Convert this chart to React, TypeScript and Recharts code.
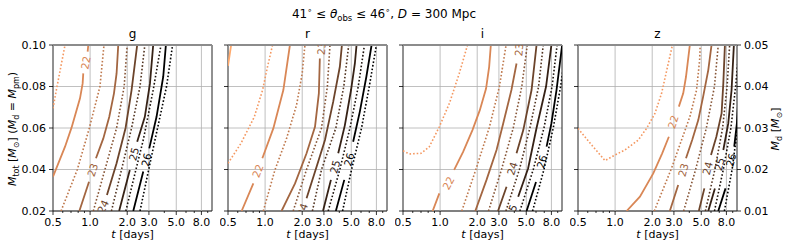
import React from "react";
import {
  CartesianGrid,
  ComposedChart,
  Line,
  ReferenceArea,
  ReferenceLine,
  Scatter,
  XAxis,
  YAxis,
} from "recharts";

type Pt = [number, number | null];
type Contour = { level: number; pts: Pt[] };
type Tag = { level: number; t: number; m: number; angle: number };

const BANDS = ["g", "r", "i", "z"];
const T_TICKS = [0.5, 1, 2, 3, 5, 8];
const T_MINOR = [0.6, 0.7, 0.8, 0.9, 4, 6, 7, 9];
const M_TICKS = [0.02, 0.04, 0.06, 0.08, 0.1];
const MD_TICKS = [0.01, 0.02, 0.03, 0.04, 0.05];
const T_DOMAIN: [number, number] = [0.5, 9.75];

// contour points are [t (days), M_tot]; a null M breaks the line where a label sits
const G_LINES: Contour[] = [
  { level: 21.5, pts: [[0.5, 0.0695], [0.539, 0.08], [0.626, 0.1]] },
  { level: 22, pts: [[0.5, 0.0365], [0.626, 0.051], [0.708, 0.0603], [0.828, 0.0743], [0.87, 0.0815], [0.88, 0.0863], [0.92, null], [0.955, 0.0968], [0.967, 0.1]] },
  { level: 22.5, pts: [[0.581, 0.02], [0.788, 0.04], [0.986, 0.06], [1.202, 0.08], [1.296, 0.1]] },
  { level: 23, pts: [[0.818, 0.02], [0.98, 0.0341], [1.04, null], [1.116, 0.0454], [1.28, 0.055], [1.431, 0.0654], [1.562, 0.0767], [1.64, 0.0863], [1.692, 0.1]] },
  { level: 23.5, pts: [[1.062, 0.02], [1.32, 0.04], [1.64, 0.06], [1.89, 0.08], [2.0, 0.1]] },
  { level: 24, pts: [[1.37, 0.0277], [1.64, 0.043], [1.94, 0.06], [2.17, 0.0783], [2.41, 0.1]] },
  { level: 24.5, pts: [[1.49, 0.02], [1.8, 0.04], [2.17, 0.06], [2.54, 0.08], [2.78, 0.1]] },
  { level: 25, pts: [[1.72, 0.02], [2.1, 0.0398], [2.26, null], [2.41, 0.0534], [2.78, 0.0654], [3.06, 0.0815], [3.25, 0.1]] },
  { level: 25.5, pts: [[1.95, 0.02], [2.31, 0.038], [2.7, 0.0542], [3.25, 0.0783], [3.76, 0.1]] },
  { level: 26, pts: [[2.24, 0.02], [2.7, 0.039], [2.84, null], [3.02, 0.0502], [3.46, 0.0654], [3.92, 0.0847], [4.12, 0.1]] },
  { level: 26.5, pts: [[2.54, 0.02], [2.87, 0.035], [3.36, 0.0542], [4.17, 0.08], [4.67, 0.1]] },
];

const G_TAGS: Tag[] = [
  { level: 22, t: 0.92, m: 0.0915, angle: -79 },
  { level: 23, t: 1.045, m: 0.0398, angle: -72 },
  { level: 24, t: 1.27, m: 0.0222, angle: -65 },
  { level: 25, t: 2.26, m: 0.0475, angle: -75 },
  { level: 26, t: 2.85, m: 0.0447, angle: -76 },
];

const R_LINES: Contour[] = [
  { level: 21, pts: [[0.5, 0.09], [0.515, 0.095], [0.53, 0.1]] },
  { level: 21.5, pts: [[0.5, 0.043], [0.637, 0.0526], [0.818, 0.0654], [0.954, 0.0783], [1.046, 0.0895], [1.15, 0.1]] },
  { level: 22, pts: [[0.645, 0.02], [0.803, 0.0333], [0.865, null], [0.95, 0.0454], [1.166, 0.0598], [1.406, 0.0783], [1.59, 0.1]] },
  { level: 22.5, pts: [[0.967, 0.02], [1.202, 0.0398], [1.494, 0.055], [1.8, 0.0711], [2.0, 0.0863], [2.104, 0.1]] },
  { level: 23, pts: [[1.36, 0.02], [1.75, 0.0333], [2.17, 0.0478], [2.54, 0.0606], [2.73, 0.0767], [2.78, 0.0935]] },
  { level: 23.5, pts: [[1.69, 0.02], [2.17, 0.04], [2.87, 0.06], [3.2, 0.08], [3.36, 0.1]] },
  { level: 24, pts: [[2.17, 0.0261], [2.62, 0.0414], [3.06, 0.0542], [3.57, 0.0727], [4.04, 0.0895], [4.2, 0.1]] },
  { level: 24.5, pts: [[2.42, 0.02], [2.87, 0.04], [3.75, 0.06], [4.35, 0.08], [4.77, 0.1]] },
  { level: 25, pts: [[2.95, 0.02], [3.42, 0.035], [3.69, null], [3.92, 0.0478], [4.44, 0.0614], [4.98, 0.0783], [5.35, 0.0911], [5.52, 0.1]] },
  { level: 25.5, pts: [[3.25, 0.02], [4.04, 0.04], [4.88, 0.06], [5.7, 0.08], [6.4, 0.1]] },
  { level: 26, pts: [[3.75, 0.02], [4.39, 0.035], [4.78, null], [5.18, 0.0534], [5.87, 0.0679], [6.63, 0.0847], [7.31, 0.1]] },
  { level: 26.5, pts: [[4.25, 0.02], [5.03, 0.04], [6.06, 0.06], [7.0, 0.08], [8.0, 0.1]] },
];

const R_TAGS: Tag[] = [
  { level: 22, t: 0.87, m: 0.0393, angle: -70 },
  { level: 23, t: 2.86, m: 0.0985, angle: -85 },
  { level: 24, t: 2.0, m: 0.0206, angle: -70 },
  { level: 25, t: 3.69, m: 0.0413, angle: -75 },
  { level: 26, t: 4.78, m: 0.0448, angle: -75 },
];

const I_LINES: Contour[] = [
  { level: 21.5, pts: [[0.5, 0.049], [0.563, 0.0475], [0.7, 0.0478], [0.818, 0.051], [0.986, 0.0606], [1.19, 0.0719], [1.43, 0.0863], [1.67, 0.1]] },
  { level: 22, pts: [[0.87, 0.02], [0.986, 0.0285], [1.166, null], [1.3, 0.0398], [1.54, 0.0486], [1.83, 0.059], [2.1, 0.0686], [2.36, 0.079], [2.5, 0.0895], [2.58, 0.1]] },
  { level: 22.5, pts: [[1.5, 0.02], [1.95, 0.04], [2.5, 0.06], [3.03, 0.08], [3.43, 0.1]] },
  { level: 23, pts: [[1.93, 0.02], [2.38, 0.035], [2.87, 0.0494], [3.25, 0.0622], [3.79, 0.0783], [4.17, 0.0911]] },
  { level: 23.5, pts: [[2.47, 0.02], [3.15, 0.04], [3.92, 0.06], [4.6, 0.08], [5.1, 0.1]] },
  { level: 24, pts: [[2.95, 0.02], [3.46, 0.0317], [3.85, null], [4.17, 0.0478], [4.73, 0.059], [5.52, 0.0783], [6.06, 0.1]] },
  { level: 24.5, pts: [[3.42, 0.02], [4.4, 0.04], [5.35, 0.06], [6.3, 0.08], [6.87, 0.1]] },
  { level: 25, pts: [[4.3, 0.0269], [5.18, 0.0406], [6.06, 0.06], [7.24, 0.08], [8.0, 0.1]] },
  { level: 25.5, pts: [[4.44, 0.02], [5.7, 0.04], [6.96, 0.06], [8.1, 0.08], [8.9, 0.1]] },
  { level: 26, pts: [[5.03, 0.02], [6.0, 0.034], [6.66, null], [7.31, 0.051], [8.0, 0.0622], [8.8, 0.0783], [9.78, 0.1]] },
  { level: 26.5, pts: [[5.63, 0.02], [6.96, 0.04], [8.28, 0.06], [9.5, 0.08], [10.6, 0.1]] },
];

const I_TAGS: Tag[] = [
  { level: 22, t: 1.166, m: 0.0335, angle: -62 },
  { level: 23, t: 4.35, m: 0.0978, angle: -85 },
  { level: 24, t: 3.85, m: 0.0405, angle: -73 },
  { level: 25, t: 3.79, m: 0.0199, angle: -70 },
  { level: 26, t: 6.66, m: 0.0438, angle: -75 },
];

const Z_LINES: Contour[] = [
  { level: 21.5, pts: [[0.5, 0.0598], [0.645, 0.0518], [0.828, 0.0443], [0.998, 0.047], [1.202, 0.0494], [1.541, 0.0542], [1.8, 0.0598], [2.104, 0.067], [2.383, 0.0767], [2.7, 0.0911], [2.92, 0.1]] },
  { level: 22, pts: [[1.24, 0.02], [1.59, 0.0269], [2.04, 0.0381], [2.41, 0.0478], [2.73, 0.0558], [2.95, null], [3.29, 0.0703], [3.57, 0.0767], [3.76, 0.0847], [4.04, 0.1]] },
  { level: 22.5, pts: [[2.08, 0.02], [2.87, 0.0406], [3.46, 0.0542], [4.04, 0.0654], [4.58, 0.0783], [4.85, 0.0927], [4.9, 0.1]] },
  { level: 23, pts: [[2.78, 0.02], [3.25, 0.0325], [3.57, null], [3.76, 0.0454], [4.22, 0.0542], [4.73, 0.0638], [5.18, 0.0751], [5.7, 0.0879], [6.06, 0.1]] },
  { level: 23.5, pts: [[3.6, 0.02], [4.5, 0.04], [5.5, 0.06], [6.4, 0.08], [6.87, 0.1]] },
  { level: 24, pts: [[4.78, 0.02], [5.3, 0.0309], [5.6, null], [6.0, 0.047], [6.63, 0.0558], [7.31, 0.067], [7.55, 0.0815], [7.78, 0.1]] },
  { level: 24.5, pts: [[5.4, 0.02], [6.45, 0.04], [7.45, 0.06], [8.1, 0.08], [8.5, 0.1]] },
  { level: 25, pts: [[5.7, 0.02], [6.45, 0.0309], [7.0, null], [7.55, 0.0494], [8.28, 0.0622], [8.81, 0.0783], [9.2, 0.1]] },
  { level: 25.5, pts: [[6.4, 0.02], [7.55, 0.04], [8.7, 0.06], [9.5, 0.08], [10.2, 0.1]] },
  { level: 26, pts: [[6.87, 0.02], [7.87, 0.0309], [8.7, null], [9.26, 0.051], [9.73, 0.0622], [10.1, 0.0783]] },
  { level: 26.5, pts: [[7.7, 0.02], [8.9, 0.04], [9.85, 0.06], [10.7, 0.08]] },
];

const Z_TAGS: Tag[] = [
  { level: 22, t: 2.95, m: 0.063, angle: -72 },
  { level: 23, t: 3.57, m: 0.0398, angle: -75 },
  { level: 24, t: 5.6, m: 0.0406, angle: -75 },
  { level: 25, t: 7.0, m: 0.0426, angle: -75 },
  { level: 26, t: 8.7, m: 0.0446, angle: -75 },
];

const PANELS = [
  { lines: G_LINES, tags: G_TAGS },
  { lines: R_LINES, tags: R_TAGS },
  { lines: I_LINES, tags: I_TAGS },
  { lines: Z_LINES, tags: Z_TAGS },
];

const PANEL_LEFT = [53, 228, 403, 578];
const PLOT_W = 159;
const FONT = "DejaVu Sans, sans-serif";

// reversed copper colormap over the magnitude levels
const copper = (level: number) => {
  const v = Math.max(0, Math.min(1, ((26 - level) / 5) * 0.85));
  const r = Math.round(255 * Math.min(1, 1.25 * v));
  const g = Math.round(255 * 0.7812 * v);
  const b = Math.round(255 * 0.4975 * v);
  return `rgb(${r},${g},${b})`;
};

const fmt2 = (v: number) => v.toFixed(2);
const blank = () => "";

function XTick(props: any) {
  const { x, y, payload } = props;
  const major = T_TICKS.includes(payload.value);
  return (
    <g>
      <line x1={x} x2={x} y1={y} y2={y + (major ? 4 : 2)} stroke="#000" strokeWidth={0.8} />
      {major && (
        <text x={x} y={y + 7} dy="0.71em" textAnchor="middle" fontSize={11} fill="#000">
          {payload.value.toFixed(1)}
        </text>
      )}
    </g>
  );
}

// right-hand M_d ticks share the plot height with M_tot (M_d = M_tot / 2)
function MdTick(props: any) {
  const { x, y, index } = props;
  return (
    <g>
      <line x1={x} x2={x + 4} y1={y} y2={y} stroke="#000" strokeWidth={0.8} />
      <text x={x + 7} y={y} dy="0.355em" textAnchor="start" fontSize={11} fill="#000">
        {fmt2(MD_TICKS[index])}
      </text>
    </g>
  );
}

function TagMark(props: any) {
  const { cx, cy, payload } = props;
  if (cx == null || cy == null) return null;
  return (
    <text
      x={cx}
      y={cy}
      transform={`rotate(${payload.angle} ${cx} ${cy})`}
      textAnchor="middle"
      dominantBaseline="central"
      fontSize={10.5}
      fill={copper(payload.level)}
    >
      {payload.level}
    </text>
  );
}

function Panel({ idx }: { idx: number }) {
  const { lines, tags } = PANELS[idx];
  const first = idx === 0;
  const last = idx === 3;
  const yw = first ? 53 : 8;
  const rw = last ? 42 : 6;
  return (
    <div style={{ position: "absolute", left: PANEL_LEFT[idx] - yw, top: 0 }}>
      <ComposedChart
        width={yw + PLOT_W + rw}
        height={251}
        margin={{ top: 45, right: last ? 0 : rw, bottom: 0, left: 0 }}
      >
        <CartesianGrid yAxisId="m" vertical={false} stroke="#b0b0b0" strokeWidth={0.8} />
        {T_TICKS.slice(1).map((v) => (
          <ReferenceLine key={v} x={v} yAxisId="m" stroke="#b0b0b0" strokeWidth={0.8} />
        ))}
        <XAxis
          dataKey="t"
          type="number"
          scale="log"
          domain={T_DOMAIN}
          allowDataOverflow
          ticks={[...T_TICKS, ...T_MINOR]}
          interval={0}
          tickSize={0}
          tickMargin={0}
          tickLine={false}
          axisLine={false}
          height={40}
          tick={(p: any) => <XTick {...p} />}
        />
        <YAxis
          yAxisId="m"
          dataKey="m"
          type="number"
          domain={[0.02, 0.1]}
          allowDataOverflow
          ticks={M_TICKS}
          interval={0}
          width={yw}
          tickSize={4}
          tickMargin={3}
          axisLine={false}
          stroke="#000"
          tickLine={{ stroke: "#000", strokeWidth: 0.8 }}
          tick={{ fill: "#000", fontSize: 11 }}
          tickFormatter={first ? fmt2 : blank}
        />
        {last && (
          <YAxis
            yAxisId="md"
            orientation="right"
            dataKey="m"
            type="number"
            domain={[0.02, 0.1]}
            allowDataOverflow
            ticks={M_TICKS}
            interval={0}
            width={rw}
            tickSize={0}
            tickMargin={0}
            tickLine={false}
            axisLine={false}
            tick={(p: any) => <MdTick {...p} />}
          />
        )}
        {lines.map((c) => {
          const solid = Number.isInteger(c.level);
          return (
            <Line
              key={c.level}
              yAxisId="m"
              data={c.pts.map(([t, m]) => ({ t, m }))}
              dataKey="m"
              type="linear"
              stroke={copper(c.level)}
              strokeWidth={solid ? 1.8 : 1.6}
              strokeDasharray={solid ? undefined : "1.6 2"}
              dot={false}
              activeDot={false}
              connectNulls={false}
              isAnimationActive={false}
            />
          );
        })}
        {last && (
          <Line
            yAxisId="md"
            data={[]}
            dataKey="m"
            stroke="none"
            dot={false}
            activeDot={false}
            legendType="none"
            isAnimationActive={false}
          />
        )}
        <Scatter
          yAxisId="m"
          data={tags}
          dataKey="m"
          shape={(p: any) => <TagMark {...p} />}
          isAnimationActive={false}
        />
        <ReferenceArea
          yAxisId="m"
          x1={T_DOMAIN[0]}
          x2={T_DOMAIN[1]}
          y1={0.02}
          y2={0.1}
          fill="none"
          fillOpacity={0}
          stroke="#222"
          strokeWidth={1}
        />
        <ReferenceLine yAxisId="m" y={0.1} stroke="#8c8c8c" strokeWidth={2} />
      </ComposedChart>
    </div>
  );
}

function Sub({ children, size = 8, drop = 2.5 }: { children: React.ReactNode; size?: number; drop?: number }) {
  return (
    <tspan fontSize={size} dy={drop}>
      {children}
    </tspan>
  );
}

function Labels() {
  return (
    <svg
      width={788}
      height={251}
      style={{ position: "absolute", left: 0, top: 0, pointerEvents: "none" }}
      fontFamily={FONT}
      fill="#000"
    >
      <text x={384} y={18} textAnchor="middle" fontSize={12}>
        41<tspan fontSize={8} dy={-5}>∘</tspan>
        <tspan dy={5}> ≤ </tspan>
        <tspan fontStyle="italic">θ</tspan>
        <Sub size={8.5}>obs</Sub>
        <tspan dy={-2.5}> ≤ 46</tspan>
        <tspan fontSize={8} dy={-5}>∘</tspan>
        <tspan dy={5}>, </tspan>
        <tspan fontStyle="italic">D</tspan>
        <tspan> = 300 Mpc</tspan>
      </text>
      {BANDS.map((b, i) => (
        <text key={b} x={PANEL_LEFT[i] + PLOT_W / 2} y={38} textAnchor="middle" fontSize={12}>
          {b}
        </text>
      ))}
      {BANDS.map((b, i) => (
        <text key={b + "x"} x={PANEL_LEFT[i] + PLOT_W / 2} y={238} textAnchor="middle" fontSize={11}>
          <tspan fontStyle="italic">t</tspan>
          <tspan> [days]</tspan>
        </text>
      ))}
      <text transform="translate(16,129) rotate(-90)" textAnchor="middle" fontSize={11}>
        <tspan fontStyle="italic">M</tspan>
        <Sub>tot</Sub>
        <tspan dy={-2.5}> [</tspan>
        <tspan fontStyle="italic">M</tspan>
        <Sub>⊙</Sub>
        <tspan dy={-2.5}>] (</tspan>
        <tspan fontStyle="italic">M</tspan>
        <Sub>d</Sub>
        <tspan dy={-2.5}> = </tspan>
        <tspan fontStyle="italic">M</tspan>
        <Sub>pm</Sub>
        <tspan dy={-2.5}>)</tspan>
      </text>
      <text transform="translate(779,129) rotate(-90)" textAnchor="middle" fontSize={11}>
        <tspan fontStyle="italic">M</tspan>
        <Sub>d</Sub>
        <tspan dy={-2.5}> [</tspan>
        <tspan fontStyle="italic">M</tspan>
        <Sub>⊙</Sub>
        <tspan dy={-2.5}>]</tspan>
      </text>
    </svg>
  );
}

export default function App() {
  return (
    <div
      style={{
        position: "absolute",
        left: 0,
        top: 0,
        width: 788,
        height: 251,
        background: "#fff",
        fontFamily: FONT,
      }}
    >
      {PANELS.map((_, i) => (
        <Panel key={i} idx={i} />
      ))}
      <Labels />
    </div>
  );
}
